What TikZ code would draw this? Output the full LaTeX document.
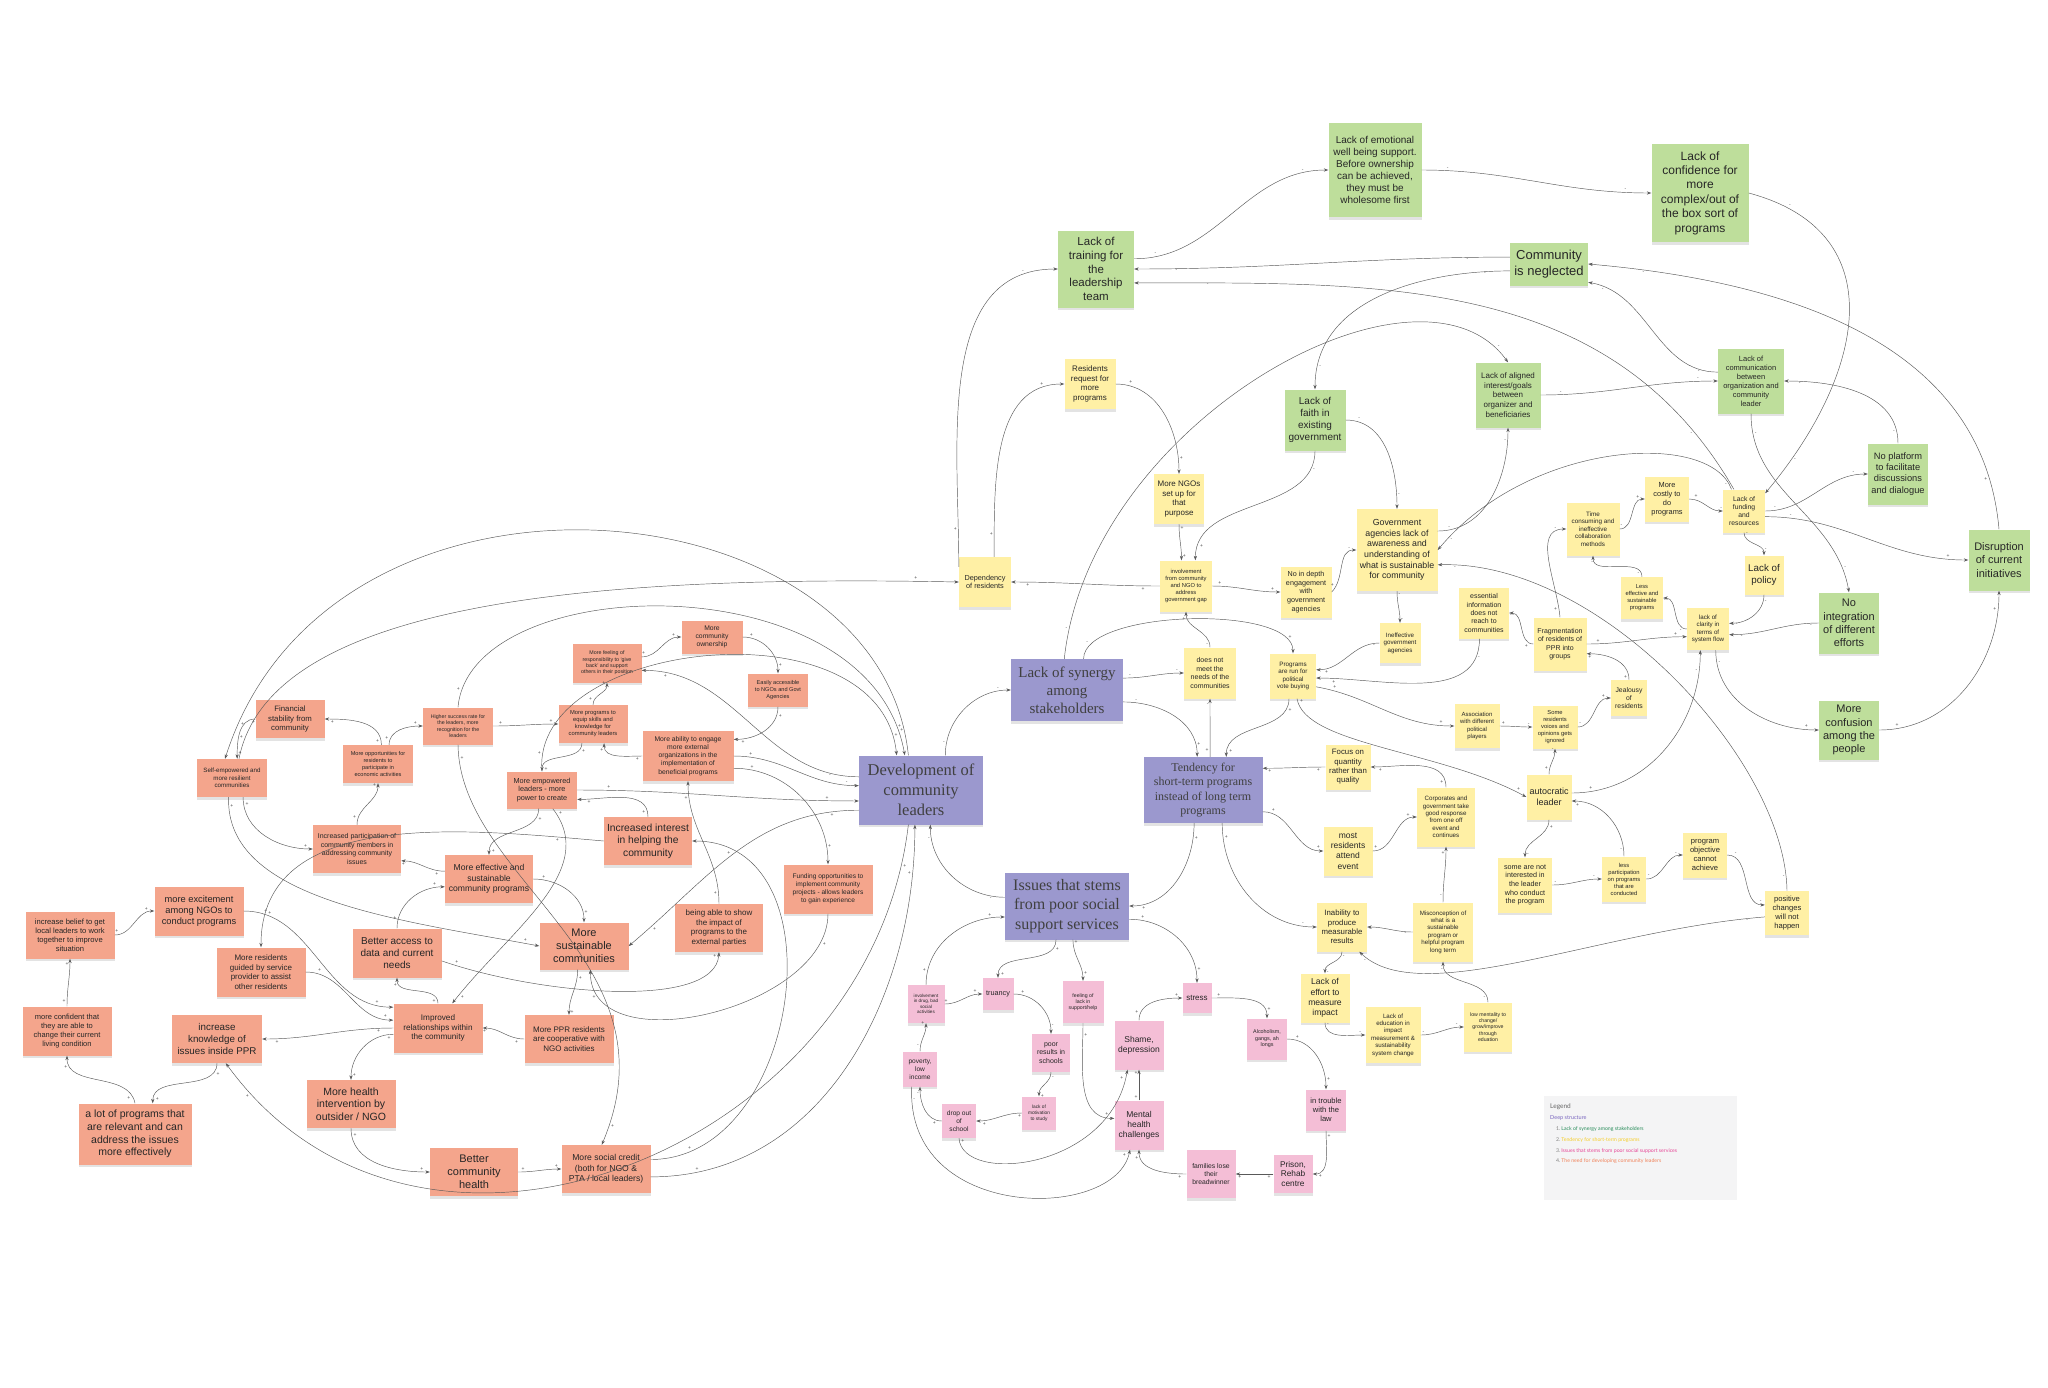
\documentclass[tikz,border=0pt]{standalone}
\usepackage{fontspec}
\usepackage{xfp}
\setmainfont{Liberation Sans}
\newfontfamily\serifface{Liberation Serif}
\newfontfamily\legfont{Lato}
\usetikzlibrary{arrows.meta,shadows}
\definecolor{cg}{RGB}{190,222,155}
\definecolor{cy}{RGB}{255,240,165}
\definecolor{ck}{RGB}{244,190,214}
\definecolor{co}{RGB}{244,165,140}
\definecolor{cp}{RGB}{155,152,206}
\definecolor{legbg}{RGB}{244,244,245}
\definecolor{lgreen}{RGB}{40,140,90}
\definecolor{lyellow}{RGB}{245,205,40}
\definecolor{lpink}{RGB}{230,70,150}
\definecolor{lorange}{RGB}{240,130,90}
\definecolor{lpurple}{RGB}{120,100,190}
\newcommand\fs[1]{\fontsize{#1}{\fpeval{1.2*#1}}\selectfont}
\tikzset{
  box/.style={draw=none,inner sep=1pt,align=center,text=black!85,
    drop shadow={shadow xshift=0pt,shadow yshift=-2.5pt,opacity=0.18,fill=black!60}},
  lnk/.style={draw=black!65,line width=0.45pt,-{Stealth[length=4.5pt,width=3.2pt]}},
  sg/.style={font=\fs{5},text=black!70,inner sep=1.2pt,auto}
}
\newcommand\nd[8]{\node[box,fill=#2,minimum width=#5pt,minimum height=#6pt,font=\fs{#7}] (#1) at (#3pt,-#4pt) {#8};}
\newcommand\ndp[8]{\node[box,fill=#2,minimum width=#5pt,minimum height=#6pt,text=black!75,font=\serifface\fs{#7}] (#1) at (#3pt,-#4pt) {#8};}
\newcommand\lk[7][]{\draw[lnk,#1] (#2) to[out=#4,in=#5] node[sg,pos=0.1]{#6} node[sg,pos=0.9]{#7} (#3);}
\newcommand\lkc[8]{\draw[lnk] (#1) .. controls (#2pt,-#3pt) and (#4pt,-#5pt) .. (#6) node[sg,pos=0.04]{#7} node[sg,pos=0.96]{#8};}
\begin{document}
\begin{tikzpicture}[x=1pt,y=1pt]
\fill[white] (0,0) rectangle (2048,-1387);
\useasboundingbox (0,0) rectangle (2048,-1387);
% ---------- green ----------
\nd{trn}{cg}{1096}{269}{76}{77}{11.5}{Lack of\\training for\\the\\leadership\\team}
\nd{emo}{cg}{1375}{170}{93}{94}{10}{Lack of emotional\\well being support.\\Before ownership\\can be achieved,\\they must be\\wholesome first}
\nd{conf}{cg}{1700}{193}{97}{98}{12}{Lack of\\confidence for\\more\\complex/out of\\the box sort of\\programs}
\nd{neg}{cg}{1549}{264}{78}{43}{13}{Community\\is neglected}
\nd{faith}{cg}{1315}{420}{61}{61}{10}{Lack of\\faith in\\existing\\government}
\nd{align}{cg}{1508}{395}{65}{65}{8}{Lack of aligned\\interest/goals\\between\\organizer and\\beneficiaries}
\nd{comm}{cg}{1751}{381}{66}{65}{7.5}{Lack of\\communication\\between\\organization and\\community\\leader}
\nd{plat}{cg}{1898}{474}{60}{61}{9.3}{No platform\\to facilitate\\discussions\\and dialogue}
\nd{disr}{cg}{1999}{560}{61}{61}{11}{Disruption\\of current\\initiatives}
\nd{integ}{cg}{1849}{623}{60}{61}{11}{No\\integration\\of different\\efforts}
\nd{confu}{cg}{1849}{730}{60}{59}{11}{More\\confusion\\among the\\people}
% ---------- yellow ----------
\nd{dep}{cy}{985}{582}{52}{50}{7.3}{Dependency\\of residents}
\nd{req}{cy}{1090}{384}{51}{50}{8}{Residents\\request for\\more\\programs}
\nd{ngo}{cy}{1179}{499}{50}{50}{8}{More NGOs\\set up for\\that\\purpose}
\nd{invol}{cy}{1186}{586}{52}{51}{5.8}{involvement\\from community\\and NGO to\\address\\government gap}
\nd{nodepth}{cy}{1306}{592}{51}{51}{7.2}{No in depth\\engagement\\with\\government\\agencies}
\nd{gov}{cy}{1397}{550}{81}{82}{8.8}{Government\\agencies lack of\\awareness and\\understanding of\\what is sustainable\\for community}
\nd{ineff}{cy}{1400}{643}{41}{40}{6.2}{Ineffective\\government\\agencies}
\nd{ess}{cy}{1484}{613}{50}{51}{7}{essential\\information\\does not\\reach to\\communities}
\nd{frag}{cy}{1560}{644}{53}{53}{7}{Fragmentation\\of residents of\\PPR into\\groups}
\nd{time}{cy}{1593}{529}{53}{53}{6.3}{Time\\consuming and\\ineffective\\collaboration\\methods}
\nd{costly}{cy}{1667}{499}{44}{45}{7.4}{More\\costly to\\do\\programs}
\nd{fund}{cy}{1744}{511}{42}{43}{6.8}{Lack of\\funding\\and\\resources}
\nd{policy}{cy}{1764}{575}{39}{39}{9.8}{Lack of\\policy}
\nd{lesseff}{cy}{1642}{598}{42}{42}{5.8}{Less\\effective and\\sustainable\\programs}
\nd{clar}{cy}{1708}{629}{42}{42}{6.2}{lack of\\clarity in\\terms of\\system flow}
\nd{jeal}{cy}{1629}{698}{36}{36}{6.8}{Jealousy\\of\\residents}
\nd{assoc}{cy}{1477}{726}{45}{44}{6}{Association\\with different\\political\\players}
\nd{some}{cy}{1555}{727}{45}{43}{5.8}{Some\\residents\\voices and\\opinions gets\\ignored}
\nd{focus}{cy}{1348}{767}{45}{45}{7.8}{Focus on\\quantity\\rather than\\quality}
\nd{corp}{cy}{1446}{817}{58}{59}{6.2}{Corporates and\\government take\\good response\\from one off\\event and\\continues}
\nd{auto}{cy}{1549}{797}{45}{45}{9}{autocratic\\leader}
\nd{prog}{cy}{1293}{676}{46}{45}{6.3}{Programs\\are run for\\political\\vote buying}
\nd{notmeet}{cy}{1210}{673}{52}{51}{7}{does not\\meet the\\needs of the\\communities}
\nd{most}{cy}{1348}{851}{49}{49}{8.5}{most\\residents\\attend\\event}
\nd{notint}{cy}{1525}{885}{54}{55}{7.2}{some are not\\interested in\\the leader\\who conduct\\the program}
\nd{lesspart}{cy}{1624}{879}{44}{45}{5.8}{less\\participation\\on programs\\that are\\conducted}
\nd{objective}{cy}{1705}{855}{44}{45}{7.6}{program\\objective\\cannot\\achieve}
\nd{positive}{cy}{1787}{913}{44}{44}{7.6}{positive\\changes\\will not\\happen}
\nd{inab}{cy}{1342}{927}{50}{49}{7.8}{Inability to\\produce\\measurable\\results}
\nd{misc}{cy}{1443}{932}{60}{59}{6.2}{Misconception of\\what is a\\sustainable\\program or\\helpful program\\long term}
\nd{effort}{cy}{1325}{998}{49}{49}{8.6}{Lack of\\effort to\\measure\\impact}
\nd{edu}{cy}{1393}{1035}{55}{56}{6.2}{Lack of\\education in\\impact\\measurement \&\\sustainability\\system change}
\nd{mental}{cy}{1488}{1027}{48}{49}{5.2}{low mentality to\\change/\\grow/improve\\through\\eduation}
% ---------- purple ----------
\ndp{dev}{cp}{921}{790}{124}{69}{16.5}{Development of\\community\\leaders}
\ndp{syn}{cp}{1067}{690}{112}{62}{15}{Lack of synergy\\among\\stakeholders}
\ndp{tend}{cp}{1203}{790}{119}{66}{12}{Tendency for\\short-term programs\\instead of long term\\programs}
\ndp{iss}{cp}{1067}{906}{124}{67}{16}{Issues that stems\\from poor social\\support services}
% ---------- pink ----------
\nd{drug}{ck}{926}{1004}{37}{38}{4.6}{involvement\\in drug, bad\\social\\activities}
\nd{tru}{ck}{998}{994}{31}{32}{7.3}{truancy}
\nd{feel}{ck}{1083}{1002}{41}{42}{5.2}{feeling of\\lack in\\support/help}
\nd{stress}{ck}{1197}{998}{29}{30}{8}{stress}
\nd{poor}{ck}{1051}{1053}{38}{38}{7}{poor\\results in\\schools}
\nd{shame}{ck}{1139}{1045}{49}{49}{8.5}{Shame,\\depression}
\nd{alc}{ck}{1267}{1039}{40}{41}{5.4}{Alcoholism,\\gangs, ah\\longs}
\nd{pov}{ck}{920}{1069}{34}{35}{6.6}{poverty,\\low\\income}
\nd{mot}{ck}{1039}{1113}{34}{33}{4.8}{lack of\\motivation\\to study}
\nd{drop}{ck}{959}{1121}{34}{34}{6.6}{drop out\\of\\school}
\nd{mh}{ck}{1139}{1125}{49}{49}{8.5}{Mental\\health\\challenges}
\nd{law}{ck}{1326}{1110}{40}{41}{7.6}{in trouble\\with the\\law}
\nd{fam}{ck}{1211}{1174}{49}{48}{6.8}{families lose\\their\\breadwinner}
\nd{prison}{ck}{1293}{1174}{39}{38}{8.3}{Prison,\\Rehab\\centre}
% ---------- orange ----------
\nd{fin}{co}{290}{719}{69}{38}{7.8}{Financial\\stability from\\community}
\nd{self}{co}{232}{778}{70}{38}{6.2}{Self-empowered and\\more resilient\\communities}
\nd{opp}{co}{378}{764}{70}{38}{5.6}{More opportunities for\\residents to\\participate in\\economic activities}
\nd{higher}{co}{458}{726}{70}{37}{5.3}{Higher success rate for\\the leaders, more\\recognition for the\\leaders}
\nd{equip}{co}{593}{724}{69}{38}{5.8}{More programs to\\equip skills and\\knowledge for\\community leaders}
\nd{resp}{co}{607}{663}{69}{39}{5.3}{More feeling of\\responsibility to `give\\back' and support\\others in their position}
\nd{emp}{co}{542}{790}{70}{37}{7.3}{More empowered\\leaders - more\\power to create}
\nd{part}{co}{357}{849}{88}{48}{7}{Increased participation of\\community members in\\addressing community\\issues}
\nd{eff}{co}{489}{879}{88}{48}{8.6}{More effective and\\sustainable\\community programs}
\nd{inter}{co}{648}{841}{88}{48}{10.3}{Increased interest\\in helping the\\community}
\nd{abil}{co}{688}{756}{91}{50}{6.8}{More ability to engage\\more external\\organizations in the\\implementation of\\beneficial programs}
\nd{own}{co}{712}{637}{61}{33}{6.8}{More\\community\\ownership}
\nd{easy}{co}{778}{690}{60}{33}{5.6}{Easily accessible\\to NGOs and Govt\\Agencies}
\nd{fundopp}{co}{828}{889}{89}{49}{6.6}{Funding opportunities to\\implement community\\projects - allows leaders\\to gain experience}
\nd{show}{co}{719}{928}{88}{48}{8}{being able to show\\the impact of\\programs to the\\external parties}
\nd{sust}{co}{584}{946}{89}{47}{11}{More\\sustainable\\communities}
\nd{coop}{co}{569}{1039}{89}{48}{8}{More PPR residents\\are cooperative with\\NGO activities}
\nd{bch}{co}{474}{1172}{88}{48}{11}{Better\\community\\health}
\nd{credit}{co}{606}{1169}{89}{48}{8.6}{More social credit\\(both for NGO \&\\PTA / local leaders)}
\nd{belief}{co}{70}{935}{89}{47}{7.6}{increase belief to get\\local leaders to work\\together to improve\\situation}
\nd{excite}{co}{199}{911}{89}{49}{9.3}{more excitement\\among NGOs to\\conduct programs}
\nd{guided}{co}{261}{972}{89}{49}{8}{More residents\\guided by service\\provider to assist\\other residents}
\nd{access}{co}{397}{953}{89}{49}{10}{Better access to\\data and current\\needs}
\nd{confid}{co}{67}{1031}{89}{49}{7.5}{more confident that\\they are able to\\change their current\\living condition}
\nd{know}{co}{217}{1039}{90}{48}{9.8}{increase\\knowledge of\\issues inside PPR}
\nd{impr}{co}{438}{1028}{89}{49}{8.2}{Improved\\relationships within\\the community}
\nd{health}{co}{351}{1104}{89}{48}{10.5}{More health\\intervention by\\outsider / NGO}
\nd{lot}{co}{135}{1134}{113}{61}{10.5}{a lot of programs that\\are relevant and can\\address the issues\\more effectively}
% ---------- legend ----------
\node[fill=legbg,minimum width=193pt,minimum height=104pt,anchor=north west,inner sep=0pt] (leg) at (1544,-1096) {};
\node[anchor=west,font=\legfont\fs{6.5},text=black!60,inner sep=0pt] (legT) at (1550,-1107) {Legend};
\node[anchor=west,font=\legfont\fs{5.5},text=lpurple,inner sep=0pt] (legS) at (1550,-1118) {Deep structure};
\node[anchor=west,font=\legfont\fs{5.2},inner sep=0pt] (leg1) at (1556,-1129) {\textcolor{black!50}{1.}\,\textcolor{lgreen}{Lack of synergy among stakeholders}};
\node[anchor=west,font=\legfont\fs{5.2},inner sep=0pt] (leg2) at (1556,-1140) {\textcolor{black!50}{2.}\,\textcolor{lyellow}{Tendency for short-term programs}};
\node[anchor=west,font=\legfont\fs{5.2},inner sep=0pt] (leg3) at (1556,-1151) {\textcolor{black!50}{3.}\,\textcolor{lpink}{Issues that stems from poor social support services}};
\node[anchor=west,font=\legfont\fs{5.2},inner sep=0pt] (leg4) at (1556,-1161) {\textcolor{black!50}{4.}\,\textcolor{lorange}{The need for developing community leaders}};
% ---------- edges: top ----------
\lk{trn.15}{emo.west}{0}{180}{-}{-}
\lk{emo.east}{conf.west}{0}{180}{-}{-}
\lk{neg.170}{trn.east}{180}{0}{-}{-}
\lk{neg.190}{faith.north}{180}{90}{-}{-}
\lk{fund.115}{trn.-20}{120}{0}{-}{-}
\lkc{syn.95}{1090}{420}{1420}{240}{align.north}{-}{-}
\lk{dep.150}{trn.west}{90}{180}{+}{-}
\lk{dep.70}{req.west}{90}{180}{+}{+}
\lk{req.east}{ngo.north}{0}{90}{+}{+}
\lk{ngo.south}{invol.100}{270}{90}{+}{+}
\lk{faith.south}{invol.70}{270}{90}{-}{+}
\lk{faith.east}{gov.north}{0}{90}{-}{-}
\lk{disr.north}{neg.east}{95}{-5}{+}{-}
\lk{comm.165}{neg.-25}{180}{-10}{-}{-}
\lk[looseness=1.3]{conf.east}{fund.40}{-15}{50}{-}{-}
\lk{align.east}{comm.west}{0}{180}{-}{-}
\lk{gov.25}{align.south}{0}{270}{-}{-}
\lk{comm.south}{integ.north}{270}{100}{-}{-}
\lk{plat.north}{comm.east}{90}{0}{-}{-}
\lk{fund.east}{plat.west}{0}{180}{-}{-}
\lk{fund.-15}{disr.west}{0}{180}{-}{+}
\lk{fund.south}{policy.north}{270}{90}{-}{-}
\lk{policy.south}{clar.15}{270}{0}{-}{-}
\lk{integ.west}{clar.-15}{180}{0}{-}{-}
\lk{clar.-70}{confu.west}{270}{180}{-}{+}
\lk{confu.east}{disr.south}{0}{270}{+}{+}
\lkc{positive.north}{1785}{760}{1600}{560}{gov.-20}{-}{-}
\lkc{fund.120}{1710}{430}{1530}{440}{gov.east}{-}{-}
\lk{gov.south}{ineff.north}{270}{90}{-}{-}
\lk{nodepth.east}{gov.west}{45}{180}{+}{-}
\lk{ineff.west}{prog.15}{180}{0}{-}{+}
\lk{ess.-100}{prog.-5}{270}{0}{-}{+}
\lk{frag.west}{ess.east}{180}{0}{+}{-}
\lk{frag.north}{time.west}{95}{180}{+}{-}
\lk{time.east}{costly.west}{0}{180}{-}{+}
\lk{costly.east}{fund.west}{0}{180}{+}{-}
\lk{lesseff.north}{time.south}{90}{270}{-}{-}
\lk{clar.west}{lesseff.east}{180}{0}{-}{-}
\lk{frag.east}{clar.-160}{0}{180}{+}{+}
\lk{jeal.north}{frag.-20}{90}{0}{+}{+}
\lk{some.east}{jeal.west}{0}{180}{-}{+}
\lk{assoc.east}{some.west}{0}{180}{+}{-}
\lk{prog.-25}{assoc.west}{-10}{180}{+}{+}
\lkc{prog.-80}{1305}{745}{1440}{750}{auto.west}{+}{+}
\lk{auto.north}{some.south}{90}{270}{+}{-}
\lk{auto.10}{clar.-110}{0}{270}{+}{-}
\lk{lesspart.north}{auto.-10}{90}{0}{-}{+}
\lk{corp.north}{focus.east}{90}{0}{+}{+}
\lk{focus.west}{tend.20}{180}{0}{+}{+}
\lk{most.east}{corp.west}{0}{180}{+}{+}
\lk{tend.-20}{most.west}{0}{180}{+}{+}
\lk{auto.south}{notint.north}{270}{90}{+}{-}
\lk{notint.east}{lesspart.west}{0}{180}{-}{-}
\lk{lesspart.east}{objective.west}{0}{180}{-}{-}
\lk{objective.east}{positive.160}{0}{180}{-}{-}
\lkc{positive.-170}{1600}{930}{1420}{1010}{inab.-55}{-}{-}
\lk{misc.north}{corp.south}{90}{270}{-}{+}
\lk{misc.west}{inab.east}{180}{0}{-}{-}
\lk{inab.south}{effort.north}{270}{90}{-}{-}
\lk{effort.south}{edu.west}{270}{180}{-}{-}
\lk{edu.east}{mental.west}{0}{180}{-}{-}
\lk{mental.north}{misc.south}{90}{270}{-}{-}
\lk{tend.-60}{inab.west}{270}{180}{+}{-}
\lk{tend.-105}{iss.east}{270}{0}{+}{+}
% ---------- edges: pink ----------
\lk{alc.east}{law.north}{0}{90}{+}{+}
\lk{law.south}{prison.east}{270}{0}{+}{+}
\lk{prison.west}{fam.east}{180}{0}{+}{+}
\lk{fam.west}{mh.south}{180}{270}{+}{+}
\lk{mh.north}{shame.south}{90}{270}{+}{+}
\lk{shame.north}{stress.west}{90}{180}{+}{+}
\lk{stress.east}{alc.north}{0}{90}{+}{+}
\lk{iss.-12}{stress.north}{0}{90}{+}{+}
\lk{iss.-80}{feel.north}{270}{90}{+}{+}
\lk{iss.-108}{tru.north}{270}{90}{+}{+}
\lk{drug.north}{iss.-170}{90}{180}{+}{+}
\lk{iss.172}{dev.-75}{180}{270}{-}{-}
\lk{drug.east}{tru.west}{0}{180}{+}{+}
\lk{tru.east}{poor.north}{0}{90}{+}{-}
\lk{poor.south}{mot.north}{270}{90}{-}{+}
\lk{mot.west}{drop.east}{180}{0}{+}{+}
\lk{drop.west}{pov.south}{180}{270}{+}{-}
\lk{pov.north}{drug.south}{90}{270}{-}{+}
\lkc{drop.south}{962}{1185}{1110}{1170}{shame.-115}{+}{+}
\lkc{pov.-115}{905}{1222}{1115}{1222}{mh.-110}{-}{+}
\lk{feel.south}{mh.165}{270}{180}{+}{+}
% ---------- edges: centre ----------
\lk{invol.west}{dep.east}{180}{0}{+}{+}
\lk{invol.east}{nodepth.west}{0}{180}{+}{+}
\lk{notmeet.north}{invol.south}{90}{270}{-}{+}
\lk{syn.12}{notmeet.west}{0}{180}{-}{-}
\lk[looseness=0.6]{syn.62}{prog.north}{90}{90}{-}{+}
\lk{syn.-12}{tend.100}{0}{90}{-}{+}
\lk{tend.78}{notmeet.south}{90}{270}{+}{-}
\lk{prog.-100}{tend.55}{270}{90}{+}{+}
\lk{dev.55}{syn.west}{90}{180}{-}{-}
% ---------- edges: orange ----------
\lk{resp.10}{own.west}{0}{180}{+}{+}
\lk{own.east}{easy.north}{0}{90}{+}{+}
\lk{easy.south}{abil.20}{270}{0}{+}{+}
\lk{dev.168}{resp.-12}{180}{0}{-}{+}
\lk{abil.0}{dev.176}{0}{180}{+}{-}
\lk{emp.east}{dev.-170}{0}{180}{+}{+}
\lk{dev.-162}{sust.east}{180}{40}{+}{+}
\lk{abil.-15}{fundopp.north}{0}{90}{+}{+}
\lk{abil.west}{equip.-60}{180}{270}{+}{+}
\lk{equip.-120}{emp.north}{270}{90}{+}{+}
\lk{equip.north}{resp.south}{90}{270}{+}{+}
\lk{higher.east}{equip.west}{0}{180}{+}{+}
\lk{inter.north}{emp.-15}{90}{0}{+}{+}
\lk{show.north}{abil.south}{90}{270}{+}{+}
\lk[looseness=1.2]{credit.12}{inter.east}{0}{0}{+}{+}
\lk{credit.-10}{dev.-100}{0}{270}{+}{+}
\lkc{dev.-110}{870}{1150}{420}{1330}{know.-70}{+}{+}
\lk{fundopp.south}{sust.-75}{270}{270}{+}{+}
\lkc{access.-10}{540}{995}{715}{1010}{show.south}{+}{+}
\lkc{self.-100}{225}{900}{400}{920}{sust.west}{+}{+}
\lk{eff.east}{sust.north}{0}{90}{+}{+}
\lk{sust.-105}{coop.north}{270}{90}{+}{+}
\lk{coop.west}{impr.east}{180}{0}{+}{+}
\lkc{emp.-60}{600}{870}{510}{930}{impr.60}{+}{+}
\lkc{higher.south}{460}{880}{680}{960}{credit.100}{+}{+}
\lk{access.north}{eff.-170}{90}{180}{+}{+}
\lk{belief.east}{excite.west}{0}{180}{+}{+}
\lk{confid.north}{belief.south}{90}{270}{+}{+}
\lk{lot.north}{confid.south}{100}{270}{+}{+}
\lk{know.south}{lot.60}{270}{90}{+}{+}
\lk{excite.east}{impr.155}{0}{180}{+}{+}
\lk{guided.east}{impr.170}{0}{180}{+}{+}
\lk{impr.180}{know.east}{180}{0}{+}{+}
\lk{impr.north}{access.south}{90}{270}{+}{+}
\lk{impr.-172}{health.north}{180}{90}{+}{+}
\lk{health.south}{bch.west}{270}{180}{+}{+}
\lk{bch.east}{credit.west}{0}{180}{+}{+}
\lk{inter.west}{guided.north}{175}{90}{+}{+}
\lkc{dev.110}{880}{480}{330}{430}{self.110}{+}{+}
\lkc{self.70}{270}{600}{600}{575}{dep.west}{+}{+}
\lkc{higher.north}{470}{570}{870}{560}{dev.115}{+}{+}
\lkc{emp.north}{530}{640}{880}{600}{dev.125}{+}{+}
\lk{fin.west}{self.75}{180}{90}{+}{+}
\lk{opp.80}{fin.east}{90}{0}{+}{+}
\lk{opp.60}{higher.west}{90}{180}{+}{+}
\lk{part.north}{opp.south}{90}{270}{+}{+}
\lk{self.-60}{part.west}{270}{180}{+}{+}
\lk{eff.170}{part.-15}{180}{0}{+}{+}
\lk{emp.-100}{eff.north}{270}{90}{+}{+}
\end{tikzpicture}
\end{document}
